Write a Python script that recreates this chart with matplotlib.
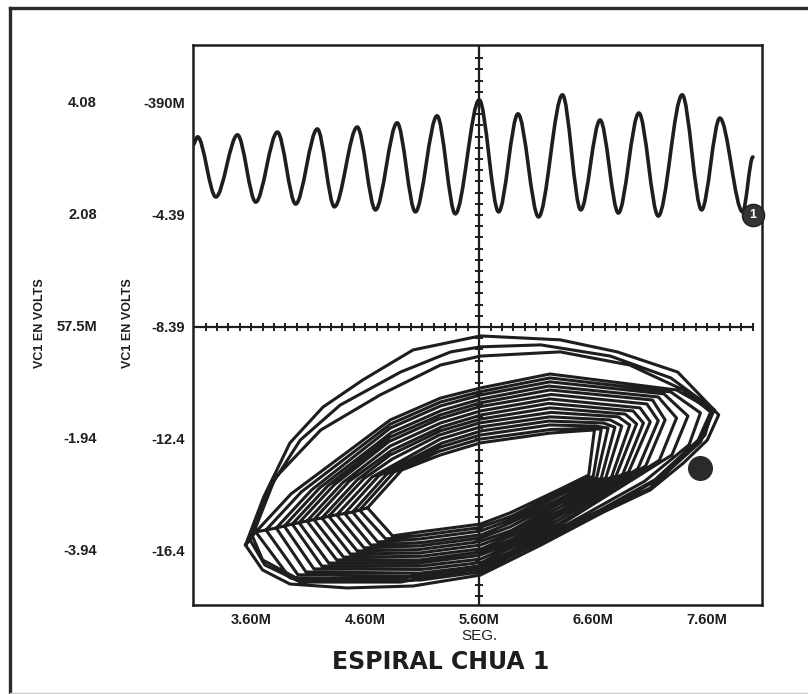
import matplotlib
matplotlib.use('Agg')
import matplotlib.pyplot as plt
import numpy as np
from matplotlib.lines import Line2D
from matplotlib.path import Path
from matplotlib.patches import PathPatch

plt.rcParams['font.family'] = ['Liberation Sans', 'DejaVu Sans']

INK = '#1e1e1e'

# upper trace: VC1 against time (ms), peak / trough readings
wave_t = [3.09, 3.13, 3.29, 3.48, 3.64, 3.83, 3.99, 4.18, 4.33, 4.53, 4.69, 4.88, 5.04, 5.23,
          5.39, 5.60, 5.77, 5.94, 6.12, 6.33, 6.49, 6.66, 6.82, 7.00, 7.17, 7.38, 7.55, 7.71,
          7.91, 8.00]
wave_v = [-1.89, -1.60, -3.75, -1.53, -3.93, -1.43, -4.00, -1.32, -4.10, -1.25, -4.21, -1.10,
          -4.28, -0.85, -4.35, -0.28, -4.28, -0.78, -4.46, -0.10, -4.21, -1.00, -4.32, -0.75,
          -4.43, -0.10, -4.21, -0.93, -4.28, -2.32]

# lower trace: spiral loops, inner to outer band
band_x = [
    [4.62, 4.92, 5.26, 5.61, 6.22, 6.49, 6.61, 6.56, 6.31, 5.87, 5.61, 5.08, 4.84],
    [4.55, 4.85, 5.25, 5.60, 6.23, 6.55, 6.67, 6.60, 6.30, 5.88, 5.60, 5.07, 4.78],
    [4.49, 4.79, 5.26, 5.61, 6.22, 6.62, 6.73, 6.63, 6.31, 5.87, 5.61, 5.08, 4.71],
    [4.42, 4.72, 5.27, 5.62, 6.21, 6.69, 6.79, 6.67, 6.32, 5.86, 5.62, 5.09, 4.65],
    [4.35, 4.66, 5.26, 5.61, 6.22, 6.75, 6.85, 6.71, 6.31, 5.87, 5.61, 5.08, 4.59],
    [4.28, 4.59, 4.84, 5.25, 5.60, 6.23, 6.82, 6.92, 6.76, 6.30, 5.88, 5.60, 5.07, 4.53],
    [4.22, 4.53, 4.82, 5.26, 5.61, 6.22, 6.88, 6.98, 6.80, 6.31, 5.87, 5.61, 5.08, 4.47],
    [4.15, 4.46, 4.83, 5.27, 5.62, 6.21, 6.95, 7.04, 6.86, 6.32, 5.86, 5.62, 5.09, 4.41],
    [4.09, 4.40, 4.82, 5.26, 5.61, 6.22, 7.01, 7.10, 6.91, 6.31, 5.87, 5.61, 5.08, 4.35],
    [4.02, 4.33, 4.81, 5.25, 5.60, 6.23, 7.07, 7.17, 6.99, 6.30, 5.88, 5.60, 5.07, 4.28],
    [3.96, 4.27, 4.82, 5.26, 5.61, 6.22, 7.12, 7.23, 7.06, 6.31, 5.87, 5.61, 5.08, 4.22],
    [3.89, 4.20, 4.83, 5.27, 5.62, 6.21, 7.17, 7.33, 7.18, 6.32, 5.86, 5.62, 5.09, 4.15],
    [3.82, 4.13, 4.82, 5.26, 5.61, 6.22, 7.22, 7.43, 7.29, 6.31, 5.87, 5.61, 5.08, 4.08],
    [3.73, 4.04, 4.82, 5.26, 5.61, 6.22, 7.28, 7.54, 7.44, 7.05, 6.31, 5.87, 5.61, 5.08, 4.01],
    [3.64, 3.95, 4.82, 5.26, 5.61, 6.22, 7.33, 7.64, 7.58, 7.10, 6.31, 5.87, 5.61, 5.08, 3.94],
]
band_y = [
    [-14.85, -13.50, -12.96, -12.53, -12.18, -12.10, -12.07, -13.68, -14.18, -15.03, -15.43, -15.71, -15.85],
    [-14.93, -13.58, -12.83, -12.40, -12.05, -12.02, -12.04, -13.72, -14.30, -15.15, -15.56, -15.84, -15.96],
    [-15.00, -13.64, -12.68, -12.25, -11.89, -11.93, -12.00, -13.78, -14.39, -15.28, -15.68, -15.96, -16.07],
    [-15.05, -13.70, -12.54, -12.10, -11.75, -11.82, -11.97, -13.79, -14.50, -15.41, -15.81, -16.09, -16.18],
    [-15.10, -13.75, -12.39, -11.96, -11.60, -11.71, -11.93, -13.78, -14.60, -15.53, -15.93, -16.21, -16.28],
    [-15.15, -13.80, -13.10, -12.25, -11.82, -11.44, -11.60, -11.89, -13.75, -14.71, -15.66, -16.06, -16.34, -16.39],
    [-15.21, -13.85, -12.96, -12.10, -11.68, -11.28, -11.50, -11.85, -13.71, -14.82, -15.78, -16.18, -16.46, -16.50],
    [-15.27, -13.90, -12.80, -11.96, -11.53, -11.12, -11.39, -11.82, -13.64, -14.93, -15.89, -16.31, -16.58, -16.61],
    [-15.32, -13.96, -12.64, -11.82, -11.39, -10.96, -11.28, -11.78, -13.57, -15.03, -16.00, -16.43, -16.71, -16.71],
    [-15.38, -14.02, -12.48, -11.67, -11.24, -10.80, -11.14, -11.74, -13.46, -15.14, -16.10, -16.55, -16.82, -16.82],
    [-15.43, -14.07, -12.32, -11.53, -11.10, -10.64, -11.00, -11.71, -13.35, -15.25, -16.21, -16.68, -16.93, -16.93],
    [-15.50, -14.14, -12.16, -11.37, -10.96, -10.50, -10.89, -11.64, -13.15, -15.36, -16.32, -16.80, -17.05, -17.03],
    [-15.57, -14.21, -12.00, -11.21, -10.82, -10.35, -10.78, -11.57, -12.96, -15.46, -16.43, -16.93, -17.18, -17.14],
    [-15.64, -14.28, -11.86, -11.07, -10.70, -10.21, -10.71, -11.46, -12.60, -13.90, -15.58, -16.52, -17.03, -17.30, -17.24],
    [-15.71, -14.35, -11.71, -10.93, -10.57, -10.07, -10.64, -11.35, -12.25, -14.14, -15.71, -16.60, -17.14, -17.43, -17.35],
]

# outer loops with the wide upper arc
arc_x = [
    [3.61, 3.81, 4.21, 4.73, 5.26, 5.61, 6.31, 6.92, 7.39, 7.63, 7.52, 7.14, 6.66, 6.14, 5.61, 4.91, 4.03, 3.70],
    [3.59, 3.75, 4.03, 4.38, 4.91, 5.35, 5.61, 6.14, 6.75, 7.28, 7.66, 7.54, 7.19, 6.66, 6.14, 5.61, 4.91, 4.03, 3.72],
    [3.55, 3.71, 3.94, 4.23, 4.58, 5.02, 5.61, 6.31, 6.81, 7.34, 7.56, 7.70, 7.60, 7.39, 7.10, 6.69, 6.14, 5.61,
     5.02, 4.44, 3.94, 3.70],
]
arc_y = [
    [-15.85, -13.78, -12.07, -10.82, -9.75, -9.43, -9.28, -9.75, -10.64, -11.43, -12.43, -13.85, -14.93, -16.00,
     -16.93, -17.35, -17.43, -16.71],
    [-16.00, -14.21, -12.43, -11.18, -10.00, -9.28, -9.10, -9.03, -9.43, -10.21, -11.35, -12.50, -13.78, -15.00,
     -16.07, -17.00, -17.50, -17.50, -16.89],
    [-16.18, -14.46, -12.53, -11.25, -10.28, -9.21, -8.71, -8.85, -9.28, -10.00, -10.93, -11.53, -12.43, -13.25,
     -14.21, -15.00, -16.18, -17.25, -17.64, -17.71, -17.57, -17.07],
]

cursor1 = (8.00, -4.39)
cursor2 = (7.54, -13.43)

x_ticks = [3.60, 4.60, 5.60, 6.60, 7.60]
x_labels = ['3.60M', '4.60M', '5.60M', '6.60M', '7.60M']
y_ticks = [-0.39, -4.39, -8.39, -12.39, -16.39]
y_labels_inner = ['-390M', '-4.39', '-8.39', '-12.4', '-16.4']
y_labels_outer = ['4.08', '2.08', '57.5M', '-1.94', '-3.94']

cross_x = 5.60
cross_y = -8.39


def smooth_wave(ax, t, v, k=0.33, **kw):
    # bezier through the extremes with flat tangents, like the scope's rounded trace
    verts = [(t[0], v[0])]
    codes = [Path.MOVETO]
    for i in range(1, len(t)):
        dt = t[i] - t[i - 1]
        verts += [(t[i - 1] + k * dt, v[i - 1]), (t[i] - k * dt, v[i]), (t[i], v[i])]
        codes += [Path.CURVE4] * 3
    ax.add_patch(PathPatch(Path(verts, codes), fill=False, **kw))


def main():
    fig = plt.figure(figsize=(8.08, 6.94), dpi=100)
    ax = fig.add_axes([0.2389, 0.1282, 0.7042, 0.807])
    ax.set_xlim(3.09, 8.08)
    ax.set_ylim(-18.32, 1.68)

    # crosshair with its small ticks
    ax.axvline(cross_x, color=INK, lw=1.6, zorder=1)
    ax.plot([3.09, 8.0], [cross_y, cross_y], color=INK, lw=1.6, zorder=1)
    hx = np.round(np.arange(3.2, 8.01, 0.1), 2)
    ax.plot(hx, np.full(len(hx), cross_y), ls='none', marker='|', ms=6, mew=1.4, color=INK, zorder=1)
    vy = np.concatenate([cross_y + 0.4 * np.arange(1, 26), cross_y - 0.4 * np.arange(1, 25)])
    vy = vy[(vy < 1.6) & (vy > -18.2)]
    ax.plot(np.full(len(vy), cross_x), vy, ls='none', marker='_', ms=6, mew=1.4, color=INK, zorder=1)

    # upper waveform
    smooth_wave(ax, wave_t, wave_v, edgecolor=INK, lw=2.6, joinstyle='round', capstyle='round', zorder=3)

    # lower spiral, drawn as one continuous path
    sx, sy = [], []
    for lx, ly in list(zip(band_x, band_y)) + list(zip(arc_x, arc_y)):
        sx += lx + [lx[0]]
        sy += ly + [ly[0]]
    ax.plot(sx, sy, color=INK, lw=2.2, solid_joinstyle='round', zorder=3)

    # cursors
    ax.plot(*cursor1, marker='o', ms=16, color='#333333', mec=INK, zorder=5, clip_on=False)
    ax.text(cursor1[0], cursor1[1], '1', color='white', fontsize=9, fontweight='bold',
            ha='center', va='center', zorder=6)
    ax.plot(*cursor2, marker='o', ms=17, color='#2a2a2a', zorder=5)

    # axes frame and tick labels
    for s in ax.spines.values():
        s.set_linewidth(1.8)
        s.set_color(INK)
    ax.set_xticks(x_ticks)
    ax.set_xticklabels(x_labels)
    ax.set_yticks(y_ticks)
    ax.set_yticklabels(y_labels_inner)
    ax.tick_params(length=0, pad=6, labelsize=10.5, colors=INK)
    for lab in ax.get_xticklabels() + ax.get_yticklabels():
        lab.set_fontweight('bold')
    for v, lab in zip(y_ticks, y_labels_outer):
        ax.text(-0.169, v, lab, transform=ax.get_yaxis_transform(), ha='right', va='center',
                fontsize=10.5, fontweight='bold', color=INK)

    # axis titles
    fig.text(40 / 808, 1 - 323 / 694, 'VC1 EN VOLTS', rotation=90, ha='center', va='center',
             fontsize=9, fontweight='bold', color=INK)
    fig.text(128 / 808, 1 - 323 / 694, 'VC1 EN VOLTS', rotation=90, ha='center', va='center',
             fontsize=9, fontweight='bold', color=INK)
    fig.text(479 / 808, 1 - 636 / 694, 'SEG.', ha='center', va='center', fontsize=11, color=INK)
    fig.text(441 / 808, 1 - 662 / 694, 'ESPIRAL CHUA 1', ha='center', va='center', fontsize=17,
             fontweight='bold', family=['DejaVu Sans'], color=INK)

    # outer page frame
    fig.add_artist(Line2D([10 / 808, 10 / 808], [0, 1 - 8 / 694], color='#2a2a2a', lw=2.4))
    fig.add_artist(Line2D([10 / 808, 1], [1 - 8 / 694, 1 - 8 / 694], color='#2a2a2a', lw=2.4))
    fig.add_artist(Line2D([10 / 808, 1], [1.5 / 694, 1.5 / 694], color='#cccccc', lw=1.0))

    fig.savefig('out.png', dpi=100)


if __name__ == '__main__':
    main()
